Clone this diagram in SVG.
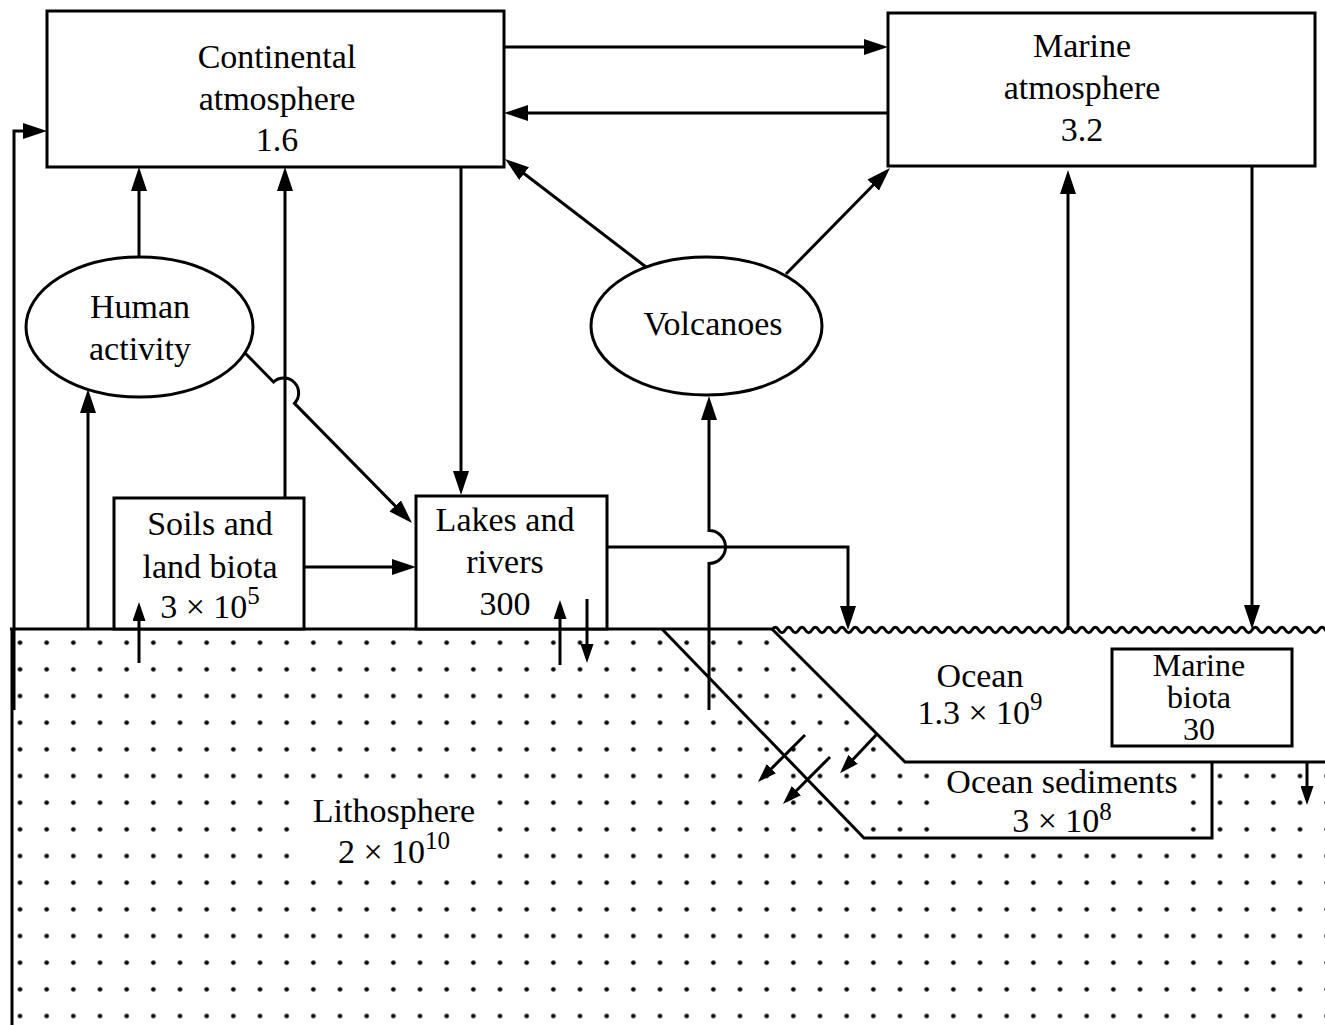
<svg xmlns="http://www.w3.org/2000/svg" width="1325" height="1025" viewBox="0 0 1325 1025">
<style>
.ln{fill:none;stroke:#000;stroke-width:3}
.bx{fill:#fff;stroke:#000;stroke-width:3}
.t{font-family:"Liberation Serif","Times New Roman",serif;font-size:34px;fill:#000;text-anchor:middle}
.sup{font-size:25px}
.sm{font-size:32px}
</style>
<defs>
<pattern id="dots" patternUnits="userSpaceOnUse" x="6.667" y="629.333" width="26.667" height="26.667">
<circle cx="13.333" cy="13.333" r="2.3" fill="#000"/>
</pattern>
<marker id="ah" markerUnits="userSpaceOnUse" markerWidth="24" markerHeight="16" viewBox="0 0 24 16" refX="17" refY="8" orient="auto">
<path d="M0,0 L24,8 L0,16 z" fill="#000"/>
</marker>
<marker id="as" markerUnits="userSpaceOnUse" markerWidth="19" markerHeight="13" viewBox="0 0 19 13" refX="14" refY="6.5" orient="auto">
<path d="M0,0 L19,6.5 L0,13 z" fill="#000"/>
</marker>
</defs>
<rect width="1325" height="1025" fill="#fff"/>

<g id="lithosphere">
<rect x="12" y="629" width="1313" height="396" fill="url(#dots)"/>
<rect x="295" y="790" width="197" height="79" fill="#fff"/>
<path class="ln" d="M10,629 H772 M12,629 V1025"/>
<text class="t" x="394" y="822">Lithosphere</text>
<text class="t" x="394" y="863">2 × 10<tspan class="sup" dy="-14">10</tspan></text>
</g>

<g id="ocean">
<polygon points="772,629 1325,629 1325,762 905,762" fill="#fff"/>
<path class="ln" d="M772,629 L905,762 H1325"/>
<path class="ln" stroke-width="2.5" d="M772,630 q3.333,-5.5 6.667,0 t6.667,0 t6.667,0 t6.667,0 t6.667,0 t6.667,0 t6.667,0 t6.667,0 t6.667,0 t6.667,0 t6.667,0 t6.667,0 t6.667,0 t6.667,0 t6.667,0 t6.667,0 t6.667,0 t6.667,0 t6.667,0 t6.667,0 t6.667,0 t6.667,0 t6.667,0 t6.667,0 t6.667,0 t6.667,0 t6.667,0 t6.667,0 t6.667,0 t6.667,0 t6.667,0 t6.667,0 t6.667,0 t6.667,0 t6.667,0 t6.667,0 t6.667,0 t6.667,0 t6.667,0 t6.667,0 t6.667,0 t6.667,0 t6.667,0 t6.667,0 t6.667,0 t6.667,0 t6.667,0 t6.667,0 t6.667,0 t6.667,0 t6.667,0 t6.667,0 t6.667,0 t6.667,0 t6.667,0 t6.667,0 t6.667,0 t6.667,0 t6.667,0 t6.667,0 t6.667,0 t6.667,0 t6.667,0 t6.667,0 t6.667,0 t6.667,0 t6.667,0 t6.667,0 t6.667,0 t6.667,0 t6.667,0 t6.667,0 t6.667,0 t6.667,0 t6.667,0 t6.667,0 t6.667,0 t6.667,0 t6.667,0 t6.667,0 t6.667,0 t6.667,0 t6.667,0 t6.667,0 t6.667,0 t6.667,0"/>
<text class="t" x="980" y="687">Ocean</text>
<text class="t" x="980" y="724">1.3 × 10<tspan class="sup" dy="-14">9</tspan></text>
</g>

<g id="ocean-sediments">
<rect x="935" y="765" width="252" height="71" fill="#fff"/>
<path class="ln" d="M662,629 L864,838 H1212 V762"/>
<text class="t" x="1062" y="793">Ocean sediments</text>
<text class="t" x="1062" y="832">3 × 10<tspan class="sup" dy="-12">8</tspan></text>
</g>

<g id="marine-biota">
<rect class="bx" x="1112" y="649" width="180" height="97"/>
<text class="t sm" x="1199" y="676">Marine</text>
<text class="t sm" x="1199" y="708">biota</text>
<text class="t sm" x="1199" y="740">30</text>
</g>

<g id="continental-atmosphere">
<rect class="bx" x="47" y="11" width="457" height="156"/>
<text class="t" x="277" y="68">Continental</text>
<text class="t" x="277" y="110">atmosphere</text>
<text class="t" x="277" y="151">1.6</text>
</g>

<g id="marine-atmosphere">
<rect class="bx" x="888" y="13" width="427" height="153"/>
<text class="t" x="1082" y="57">Marine</text>
<text class="t" x="1082" y="99">atmosphere</text>
<text class="t" x="1082" y="141">3.2</text>
</g>

<g id="human-activity">
<ellipse class="bx" cx="139.5" cy="327" rx="113.5" ry="70"/>
<text class="t" x="140" y="318">Human</text>
<text class="t" x="140" y="360">activity</text>
</g>

<g id="volcanoes">
<ellipse class="bx" cx="706.5" cy="326" rx="115.5" ry="69"/>
<text class="t" x="713" y="335">Volcanoes</text>
</g>

<g id="soils">
<rect class="bx" x="114" y="498" width="190" height="131"/>
<text class="t" x="210" y="535">Soils and</text>
<text class="t" x="210" y="578">land biota</text>
<text class="t" x="210" y="618">3 × 10<tspan class="sup" dy="-14">5</tspan></text>
</g>

<g id="lakes">
<rect class="bx" x="416" y="496" width="191" height="133"/>
<text class="t" x="505" y="531">Lakes and</text>
<text class="t" x="505" y="573">rivers</text>
<text class="t" x="505" y="615">300</text>
</g>

<g id="connectors">
<path class="ln" marker-end="url(#ah)" d="M504,47 H881"/>
<path class="ln" marker-end="url(#ah)" d="M888,113 H511"/>
<path class="ln" marker-end="url(#ah)" d="M139,257 V174"/>
<path class="ln" marker-end="url(#ah)" d="M285,498 V174"/>
<path class="ln" marker-end="url(#ah)" d="M461,167 V488"/>
<path class="ln" marker-end="url(#ah)" d="M14,710 V131 H40"/>
<path class="ln" marker-end="url(#ah)" d="M88,629 V396"/>
<path class="ln" marker-end="url(#ah)" d="M304,567 H409"/>
<path class="ln" marker-end="url(#ah)" d="M607,547 H848 V623"/>
<path class="ln" marker-end="url(#ah)" d="M709,710 V563.5 A16.5,16.5 0 0 0 709,530.5 V403"/>
<path class="ln" marker-end="url(#ah)" d="M244,352 L273.5,382 A15,15 0 0 1 294.5,403.4 L407.1,518"/>
<path class="ln" marker-end="url(#ah)" d="M646,267 L510.6,163.2"/>
<path class="ln" marker-end="url(#ah)" d="M786,274 L885.1,173"/>
<path class="ln" marker-end="url(#ah)" d="M1068,630 V177"/>
<path class="ln" marker-end="url(#ah)" d="M1252,166 V622"/>
<path class="ln" marker-end="url(#as)" d="M139,663 V607"/>
<path class="ln" marker-end="url(#as)" d="M560,665 V605"/>
<path class="ln" marker-end="url(#as)" d="M587,599 V658"/>
<path class="ln" marker-end="url(#as)" d="M1307,762 V800"/>
<path class="ln" marker-end="url(#as)" d="M805,735 L761.5,778.5"/>
<path class="ln" marker-end="url(#as)" d="M830,757 L786.5,800.5"/>
<path class="ln" marker-end="url(#as)" d="M877,734 L843.5,769.5"/>
</g>
</svg>
